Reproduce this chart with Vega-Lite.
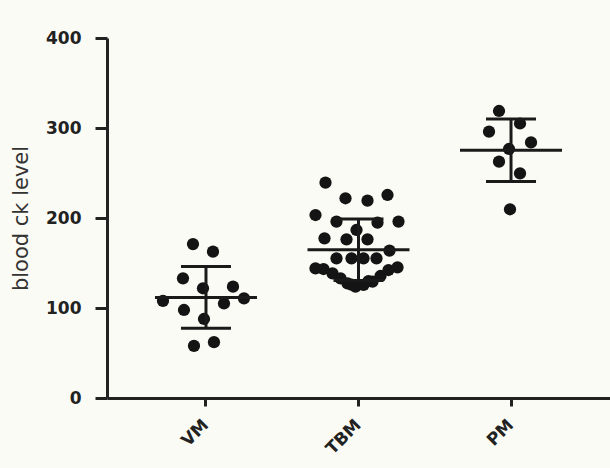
{
  "$schema": "https://vega.github.io/schema/vega-lite/v6.json",
  "width": 503,
  "height": 360,
  "autosize": "none",
  "padding": {"left": 107, "top": 38, "right": 0, "bottom": 70},
  "background": "#fbfbf5",
  "config": {"view": {"stroke": null}, "font": "DejaVu Sans"},
  "data": {"values": [
    {"group": "VM", "value": 171, "dx": -13},
    {"group": "VM", "value": 162.6, "dx": 7},
    {"group": "VM", "value": 133, "dx": -23},
    {"group": "VM", "value": 121.9, "dx": -3},
    {"group": "VM", "value": 123.7, "dx": 27},
    {"group": "VM", "value": 108, "dx": -43},
    {"group": "VM", "value": 110.7, "dx": 38},
    {"group": "VM", "value": 105, "dx": 18},
    {"group": "VM", "value": 97.8, "dx": -22},
    {"group": "VM", "value": 87.8, "dx": -2},
    {"group": "VM", "value": 58, "dx": -12},
    {"group": "VM", "value": 62, "dx": 8},
    {"group": "TBM", "value": 239.3, "dx": -33},
    {"group": "TBM", "value": 221.9, "dx": -13},
    {"group": "TBM", "value": 219.3, "dx": 9},
    {"group": "TBM", "value": 225.6, "dx": 29},
    {"group": "TBM", "value": 203.3, "dx": -43},
    {"group": "TBM", "value": 196, "dx": -22},
    {"group": "TBM", "value": 194.8, "dx": 19},
    {"group": "TBM", "value": 196, "dx": 40},
    {"group": "TBM", "value": 186.7, "dx": -2},
    {"group": "TBM", "value": 177.4, "dx": -34},
    {"group": "TBM", "value": 176.3, "dx": -12},
    {"group": "TBM", "value": 176.3, "dx": 9},
    {"group": "TBM", "value": 163.7, "dx": 31},
    {"group": "TBM", "value": 155.2, "dx": -22},
    {"group": "TBM", "value": 155.2, "dx": -7},
    {"group": "TBM", "value": 155.2, "dx": 5},
    {"group": "TBM", "value": 155.2, "dx": 18},
    {"group": "TBM", "value": 144, "dx": -43},
    {"group": "TBM", "value": 143.3, "dx": -35},
    {"group": "TBM", "value": 138.5, "dx": -26},
    {"group": "TBM", "value": 133, "dx": -18},
    {"group": "TBM", "value": 127.4, "dx": -11},
    {"group": "TBM", "value": 123.7, "dx": -3},
    {"group": "TBM", "value": 125.6, "dx": 5},
    {"group": "TBM", "value": 129.3, "dx": 14},
    {"group": "TBM", "value": 135.6, "dx": 22},
    {"group": "TBM", "value": 142.2, "dx": 30},
    {"group": "TBM", "value": 145.2, "dx": 39},
    {"group": "TBM", "value": 126, "dx": -7},
    {"group": "TBM", "value": 130, "dx": 10},
    {"group": "PM", "value": 318.9, "dx": -12},
    {"group": "PM", "value": 305, "dx": 9},
    {"group": "PM", "value": 295.9, "dx": -22},
    {"group": "PM", "value": 284, "dx": 20},
    {"group": "PM", "value": 276.7, "dx": -2},
    {"group": "PM", "value": 262.6, "dx": -12},
    {"group": "PM", "value": 249.6, "dx": 9},
    {"group": "PM", "value": 209.7, "dx": -1}
  ]},
  "encoding": {
    "x": {
      "field": "group", "type": "nominal", "sort": ["VM", "TBM", "PM"],
      "scale": {"paddingInner": 0.5, "paddingOuter": 0.399},
      "axis": {
        "title": null, "labelAngle": -45, "labelAlign": "right", "labelBaseline": "middle",
        "labelFontSize": 17, "labelFontWeight": "bold", "labelColor": "#222",
        "labelPadding": 16, "tickSize": 8, "tickWidth": 3, "tickColor": "#222",
        "domainWidth": 3, "domainColor": "#222"
      }
    },
    "y": {
      "field": "value", "type": "quantitative",
      "scale": {"domain": [0, 400], "nice": false},
      "axis": {
        "title": "blood ck level", "titleFontSize": 21, "titleFontWeight": "normal",
        "titleColor": "#333", "titlePadding": 14,
        "values": [0, 100, 200, 300, 400], "grid": false,
        "labelFontSize": 17, "labelFontWeight": "bold", "labelColor": "#222",
        "labelPadding": 14, "tickSize": 12, "tickWidth": 3, "tickColor": "#222",
        "domainWidth": 3, "domainColor": "#222"
      }
    }
  },
  "layer": [
    {
      "mark": {"type": "point", "filled": true, "shape": "circle", "size": 150, "color": "#141414", "opacity": 1},
      "encoding": {
        "xOffset": {"field": "dx", "type": "quantitative", "scale": {"domain": [-38.125, 38.125]}}
      }
    },
    {
      "mark": {"type": "errorbar", "extent": "stdev", "size": 50, "thickness": 3, "color": "#1a1a1a", "opacity": 1,
        "ticks": {"opacity": 1, "color": "#1a1a1a"}, "rule": {"opacity": 1, "color": "#1a1a1a"}}
    },
    {
      "mark": {"type": "tick", "size": 102, "thickness": 3, "color": "#1a1a1a", "opacity": 1},
      "encoding": {"y": {"aggregate": "mean", "field": "value", "type": "quantitative"}}
    }
  ]
}
